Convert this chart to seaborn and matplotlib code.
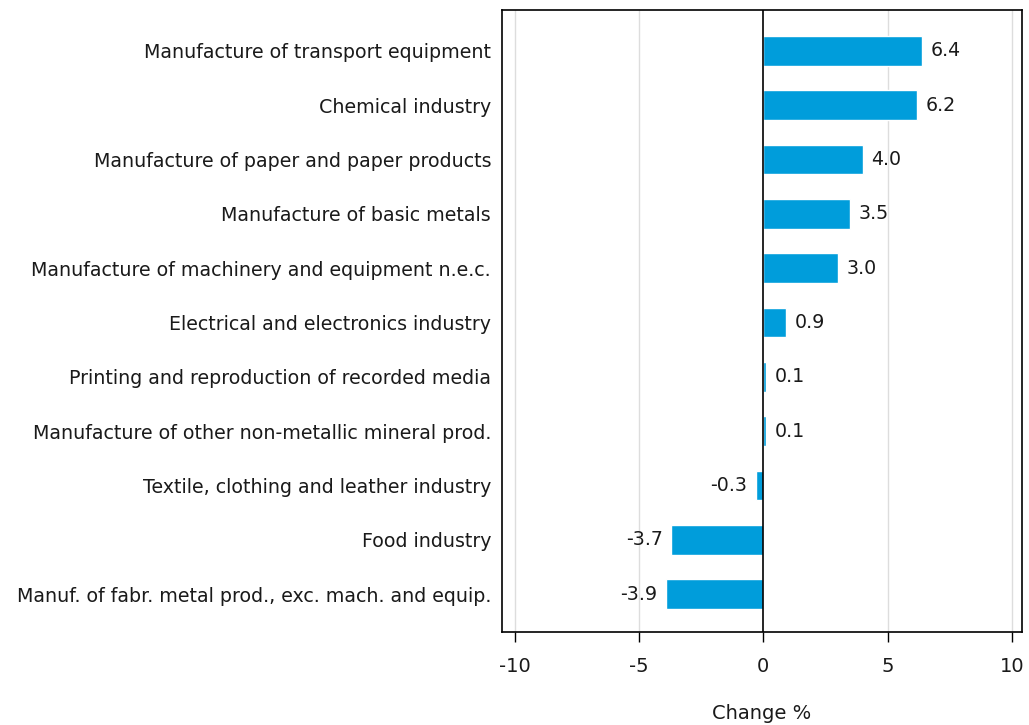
import matplotlib

matplotlib.use("Agg")
import matplotlib.pyplot as plt
import pandas as pd
import seaborn as sns

# data (top to bottom)
INDUSTRIES = [
    "Manufacture of transport equipment",
    "Chemical industry",
    "Manufacture of paper and paper products",
    "Manufacture of basic metals",
    "Manufacture of machinery and equipment n.e.c.",
    "Electrical and electronics industry",
    "Printing and reproduction of recorded media",
    "Manufacture of other non-metallic mineral prod.",
    "Textile, clothing and leather industry",
    "Food industry",
    "Manuf. of fabr. metal prod., exc. mach. and equip.",
]
CHANGE = [6.4, 6.2, 4.0, 3.5, 3.0, 0.9, 0.1, 0.1, -0.3, -3.7, -3.9]
X_TICKS = [-10, -5, 0, 5, 10]

BAR_COLOR = "#009ddb"
TEXT_COLOR = "#1a1a1a"


def main() -> None:
    df = pd.DataFrame({"industry": INDUSTRIES, "change": CHANGE})

    sns.set_theme(style="white")
    plt.rcParams["font.family"] = ["DejaVu Sans"]
    plt.rcParams["text.color"] = TEXT_COLOR
    plt.rcParams["xtick.labelcolor"] = TEXT_COLOR
    plt.rcParams["ytick.labelcolor"] = TEXT_COLOR
    plt.rcParams["axes.labelcolor"] = TEXT_COLOR

    fig = plt.figure(figsize=(10.29, 7.25), dpi=100)
    ax = fig.add_axes([0.488, 0.128, 0.505, 0.858])

    sns.barplot(
        data=df,
        x="change",
        y="industry",
        order=INDUSTRIES,
        color=BAR_COLOR,
        saturation=1,
        width=0.55,
        orient="h",
        ax=ax,
    )

    ax.set_xlim(-10.5, 10.4)
    ax.set_ylim(10.7, -0.75)
    ax.set_xticks(X_TICKS)
    ax.set_xticklabels([str(t) for t in X_TICKS], fontsize=14)
    for t in X_TICKS:
        if t != 0:
            ax.axvline(t, color="#dddddd", lw=1, zorder=0)
    ax.axvline(0, color="black", lw=1.2, zorder=3)

    ax.tick_params(axis="x", bottom=True, direction="out", length=7, width=1,
                   color="black", pad=11)
    ax.tick_params(axis="y", left=False, length=0, pad=8, labelsize=13.7)
    ax.set_xlabel("Change %", fontsize=14, labelpad=20)
    ax.set_ylabel("")
    for spine in ax.spines.values():
        spine.set_color("black")
        spine.set_linewidth(1.2)

    for i, v in enumerate(CHANGE):
        offset = 0.35 if v >= 0 else -0.35
        ax.text(
            v + offset,
            i,
            f"{v:.1f}",
            va="center",
            ha="left" if v >= 0 else "right",
            fontsize=13.7,
        )

    fig.savefig("out.png", dpi=100)
    plt.close(fig)


if __name__ == "__main__":
    main()
